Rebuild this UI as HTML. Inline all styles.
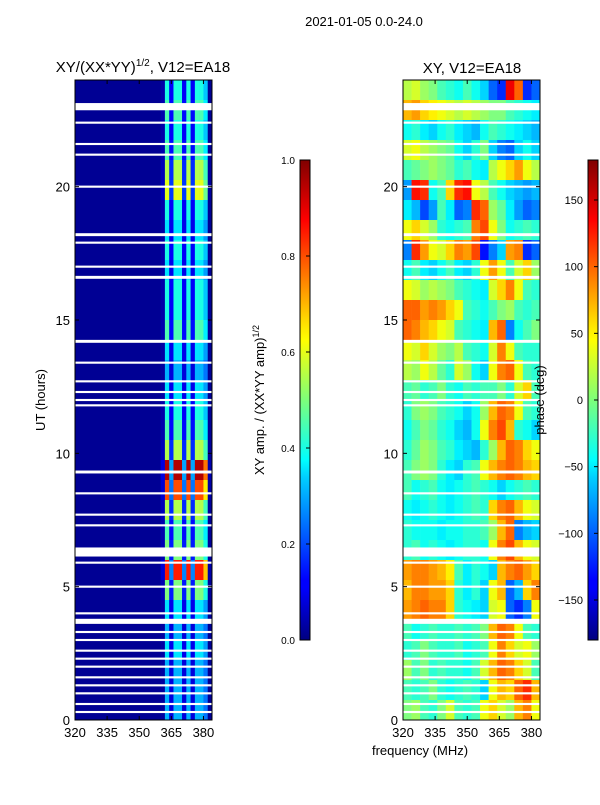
<!DOCTYPE html>
<html><head><meta charset="utf-8"><style>
body{margin:0;background:#fff;font-family:"Liberation Sans",sans-serif}
svg text{font-family:"Liberation Sans",sans-serif;fill:#000}
</style></head><body>
<svg id="fig" width="600" height="800" xmlns="http://www.w3.org/2000/svg">
<defs>
<linearGradient id="jet" x1="0" y1="1" x2="0" y2="0">
<stop offset="0" stop-color="#000080"/><stop offset="0.11" stop-color="#0000ff"/><stop offset="0.125" stop-color="#0000ff"/>
<stop offset="0.34" stop-color="#00d0ff"/><stop offset="0.375" stop-color="#00ffff"/><stop offset="0.5" stop-color="#7dff7a"/>
<stop offset="0.625" stop-color="#ffff00"/><stop offset="0.66" stop-color="#ffe000"/><stop offset="0.875" stop-color="#ff0000"/><stop offset="1" stop-color="#800000"/>
</linearGradient>
</defs>
<text x="364" y="26" font-size="13" text-anchor="middle">2021-01-05 0.0-24.0</text>
<text x="143" y="72" font-size="15" text-anchor="middle">XY/(XX*YY)<tspan font-size="10" dy="-6">1/2</tspan><tspan dy="6">, V12=EA18</tspan></text>
<text x="472" y="73" font-size="15" text-anchor="middle">XY, V12=EA18</text>
<g id="left"></g>
<g id="right"></g>
<text transform="translate(45,400) rotate(-90)" font-size="13" text-anchor="middle">UT (hours)</text>
<text x="420" y="755" font-size="13" text-anchor="middle">frequency (MHz)</text>
<rect x="300" y="160" width="10" height="480" fill="url(#jet)" stroke="#000" stroke-width="1"/>
<rect x="588" y="160" width="10" height="480" fill="url(#jet)" stroke="#000" stroke-width="1"/>
<text transform="translate(264,400) rotate(-90)" font-size="13" text-anchor="middle">XY amp. / (XX*YY amp)<tspan font-size="9" dy="-5">1/2</tspan></text>
<text transform="translate(544,400) rotate(-90)" font-size="13" text-anchor="middle">phase (deg)</text>
<g id="cbticks"></g>
</svg>
<script>
const xTicks=[320,335,350,365,380];
const yTicks=[0,5,10,15,20];
const ampTicks=[0.0,0.2,0.4,0.6,0.8,1.0];
const phaseTicks=[-150,-100,-50,0,50,100,150];
const ampFreqProfile=[0.1,1,0.3,1,1,0.3,1,0.3,1,1,0.8,0.05];
const ampRowIntensity=[0.4,0.45,0.4,0.45,0.55,0.6,0.4,0.35,0.4,0.35,0.4,0.4,0.45,0.35,0.3,0.35,0.4,0.45,0.55,0.95,0.8,0.55,0.45,0.5,0.85,0.5,0.35,0.3,0.35,0.3,0.3,0.3];
const ampBackground=0.02;
const phaseRows=[
[20,30,10,0,-20,-30,-40,-20,-40,-60,-100,-120,140,100,-120,-100],
[70,80,60,50,40,30,20,30,20,10,0,0,-20,-30,-40,-50],
[-40,-30,-50,-60,-40,-30,-50,-60,-70,-40,-20,-30,-40,-50,-60,-70],
[30,40,20,10,0,-10,-40,-60,-30,0,-60,-90,-100,-60,-40,-60],
[-20,-10,0,10,0,-10,-30,-20,-40,-50,20,40,60,80,40,20],
[-80,130,120,-40,-20,60,120,130,40,20,-20,-40,-60,-70,-80,-70],
[-50,-70,-110,-80,-20,-50,-100,-90,120,100,10,-10,-50,-80,-100,-90],
[40,60,30,10,-30,-40,-30,-20,90,110,40,0,-40,-30,-20,-30],
[-90,120,80,40,30,60,90,80,110,-130,-90,-60,80,90,-120,-100],
[-40,-20,-50,-60,-40,-20,-50,-60,-30,40,80,40,-20,30,60,10],
[40,30,10,20,10,0,-20,-30,-40,-50,30,60,90,40,-20,-30],
[100,100,80,90,80,60,40,-20,-30,-40,-20,0,10,-20,-30,-20],
[100,90,70,60,40,30,-20,-30,-40,-50,70,100,-90,-40,-20,0],
[40,30,60,30,10,0,20,-20,-30,-40,30,90,40,-20,-30,-30],
[20,10,40,20,-10,-30,30,10,-40,-60,40,90,100,40,-20,-30],
[-20,-10,-30,-20,0,-30,-40,-20,-30,-20,-20,0,-30,30,60,-20],
[-30,0,10,0,-20,-30,-40,-60,-40,10,70,100,90,40,-20,-30],
[-40,-20,0,-10,-30,-40,-60,-70,-40,40,90,110,70,-30,-40,-60],
[-30,-10,10,0,-20,-30,-50,-60,-70,-30,10,70,100,90,60,40],
[-20,0,10,0,-30,-50,-60,-30,-20,40,70,90,100,90,70,60],
[-20,-40,-30,-20,-40,-50,-40,-30,-20,-30,-40,-60,-40,-30,-20,-30],
[-40,-50,-40,-30,-40,-50,-40,-30,-20,-30,60,90,100,70,40,30],
[-30,-40,-40,-40,-50,-40,-40,-30,-30,-20,10,70,100,-90,-70,-60],
[-30,-20,-40,-30,-40,-50,-40,-30,-30,-40,40,90,110,70,40,30],
[80,90,90,80,70,50,-20,-50,-30,-40,-60,70,90,100,80,60],
[70,90,90,80,80,60,-30,-50,-30,-60,40,70,-100,-70,60,90],
[80,90,100,90,90,60,-30,-40,-50,-60,30,40,-100,-120,-90,40],
[-20,-40,-30,-20,-30,-30,-20,-30,-20,0,70,100,90,40,-20,-30],
[-30,-20,0,-20,-30,-30,-20,-40,-30,-20,40,90,60,30,40,10],
[10,-20,0,-30,-20,-30,-30,-40,-20,30,70,100,90,60,30,-20],
[-20,-30,-20,0,-30,-40,-30,-20,-30,-60,40,70,60,100,120,70],
[0,10,-20,-30,0,30,-20,-30,-20,40,60,30,10,70,90,40]];
const flaggedHours=[23.0,22.4,21.6,21.2,20.0,18.2,17.9,17.0,16.6,14.2,13.4,12.7,12.3,12.0,11.8,9.3,8.5,7.7,7.3,6.3,5.9,5.0,4.0,3.7,3.3,3.0,2.6,2.3,2.0,1.6,1.3,1.0,0.6,0.3];
const flaggedWidthsHr=[0.27,0.08,0.08,0.08,0.08,0.11,0.08,0.08,0.11,0.11,0.08,0.08,0.08,0.08,0.08,0.11,0.08,0.08,0.08,0.34,0.08,0.08,0.08,0.19,0.08,0.08,0.08,0.08,0.08,0.08,0.08,0.08,0.08,0.08];

const NS="http://www.w3.org/2000/svg";
const PT=80,PB=720,PW=137,FMIN=320,FMAX=384,HMAX=24;
function yS(h){return PB-(h/HMAX)*(PB-PT);}
function xS(f,x0){return x0+(f-FMIN)/(FMAX-FMIN)*PW;}
function cl(v){return Math.max(0,Math.min(1,v));}
function jet(t){t=cl(t);const r=cl(1.5-Math.abs(4*t-3)),g=cl(1.5-Math.abs(4*t-2)),b=cl(1.5-Math.abs(4*t-1));return `rgb(${Math.round(r*255)},${Math.round(g*255)},${Math.round(b*255)})`;}
function mk(tag,a,p){const e=document.createElementNS(NS,tag);for(const k in a)e.setAttribute(k,a[k]);p.appendChild(e);return e;}
const nR=32,rowH=HMAX/nR;
function drawPanel(gid,x0,cellFn,nCols,f0,f1,bg){
  const g=document.getElementById(gid);
  if(bg!==null){const b=mk('rect',{x:x0,y:PT,width:PW,height:PB-PT,fill:jet(bg)},g);
    
    }
  for(let r=0;r<nR;r++){const hTop=HMAX-r*rowH,hBot=hTop-rowH;
    for(let c=0;c<nCols;c++){const fa=f0+(f1-f0)*c/nCols,fb=f0+(f1-f0)*(c+1)/nCols;
      const e=mk('rect',{x:xS(fa,x0),y:yS(hTop),width:xS(fb,x0)-xS(fa,x0)+0.3,height:yS(hBot)-yS(hTop)+0.3,fill:jet(cellFn(r,c))},g);
      
      }}
  flaggedHours.forEach((h,i)=>{const w=flaggedWidthsHr[i];
    const e=mk('rect',{x:x0,y:yS(h+w/2),width:PW,height:yS(h-w/2)-yS(h+w/2),fill:'#fff'},g);
    
    });
  const fr=mk('rect',{x:x0,y:PT,width:PW,height:PB-PT,fill:'none',stroke:'#000','stroke-width':1},g);
  
  
  xTicks.forEach(t=>{const x=xS(t,x0);
    mk('line',{x1:x,x2:x,y1:PB,y2:PB-4,stroke:'#000'},g);mk('line',{x1:x,x2:x,y1:PT,y2:PT+4,stroke:'#000'},g);
    const l=mk('text',{x:x,y:PB+17,'font-size':13,'text-anchor':'middle'},g);l.textContent=t;
    
    });
  yTicks.forEach(t=>{const y=yS(t);
    mk('line',{x1:x0,x2:x0+4,y1:y,y2:y,stroke:'#000'},g);mk('line',{x1:x0+PW,x2:x0+PW-4,y1:y,y2:y,stroke:'#000'},g);
    const l=mk('text',{x:x0-5,y:y+5,'font-size':13,'text-anchor':'end'},g);l.textContent=t;
    
    });
}
drawPanel('left',75,(r,c)=>Math.max(ampBackground,ampRowIntensity[r]*ampFreqProfile[c]),ampFreqProfile.length,360,384,ampBackground);
drawPanel('right',403,(r,c)=>(phaseRows[r][c]+180)/360,16,320,384,null);
const cb=document.getElementById('cbticks');
ampTicks.forEach(t=>{const y=640-t*480;mk('line',{x1:306,x2:310,y1:y,y2:y,stroke:'#000'},cb);
  const l=mk('text',{x:295,y:y+4,'font-size':10,'text-anchor':'end'},cb);l.textContent=t.toFixed(1);
  
  });
phaseTicks.forEach(t=>{const y=640-(t+180)/360*480;mk('line',{x1:594,x2:598,y1:y,y2:y,stroke:'#000'},cb);
  const l=mk('text',{x:583,y:y+4,'font-size':11,'text-anchor':'end'},cb);l.textContent=t<0?'\u2212'+(-t):t;
  
  });
</script>
</body></html>
